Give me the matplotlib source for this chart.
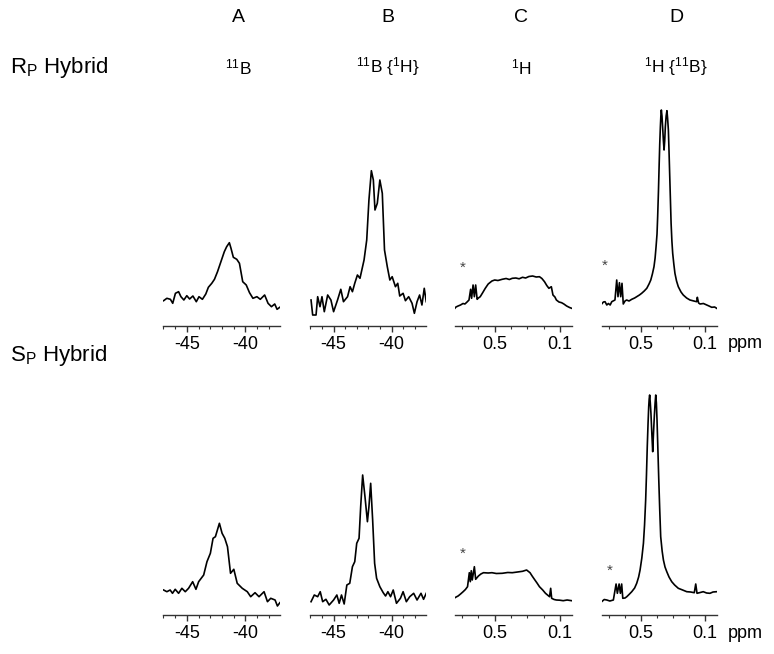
import matplotlib.pyplot as plt
from matplotlib.ticker import FixedLocator, MultipleLocator

plt.rcParams['font.family'] = ['Liberation Sans', 'DejaVu Sans']
plt.rcParams['mathtext.fontset'] = 'custom'
plt.rcParams['mathtext.rm'] = 'Liberation Sans'
plt.rcParams['mathtext.it'] = 'Liberation Sans'

# widma (ppm, intensywność w jednostkach umownych)
rp_b_ppm = [-46.98, -46.7, -46.4, -46.2, -45.97, -45.7, -45.5, -45.25, -45.0, -44.76, -44.48, -44.19,
            -43.96, -43.67, -43.38, -43.16, -42.87, -42.64, -42.38, -42.09, -41.8, -41.6, -41.37,
            -41.23, -41.03, -40.74, -40.51, -40.23, -39.93, -39.65, -39.36, -39.02, -38.73, -38.36,
            -38.07, -37.78, -37.5, -37.3, -37.07]
rp_b_int = [25.3, 27.7, 26.7, 22.7, 32.7, 34.3, 29.3, 26, 30.3, 27, 30, 24.3, 29.3, 26.7, 32, 38.7,
            42.7, 46.7, 54.3, 64.3, 74.3, 79.3, 83.3, 77.7, 68.7, 66.7, 62.7, 44.3, 41, 33.3, 27.7,
            29.3, 26.7, 31, 22.7, 19.3, 22, 16.7, 18.7]

rp_bh_ppm = [-46.94, -46.8, -46.51, -46.37, -46.17, -46.0, -45.8, -45.51, -45.23, -45.0, -44.66,
             -44.38, -44.15, -43.8, -43.58, -43.38, -43.18, -42.95, -42.73, -42.38, -42.15, -41.96,
             -41.75, -41.58, -41.44, -41.24, -41.02, -40.81, -40.62, -40.38, -40.16, -39.96, -39.68,
             -39.48, -39.31, -39.02, -38.82, -38.54, -38.25, -38.05, -37.82, -37.6, -37.4, -37.2,
             -37.03]
rp_bh_int = [26, 11, 11, 29.3, 19.3, 29.3, 14.3, 31, 26, 14.3, 26, 36.7, 24.3, 29.3, 39.3, 34.3,
             42.7, 51, 47.7, 66, 86, 126, 155.3, 146, 116, 122.7, 146, 132.7, 76, 59.3, 46, 49.3,
             39.3, 42.7, 30, 32.7, 25.3, 29.3, 22.7, 12.7, 24.3, 31, 21, 37.7, 24.3]

rp_h_ppm = [0.75, 0.738, 0.725, 0.71, 0.695, 0.683, 0.67, 0.658, 0.648, 0.642, 0.633, 0.625, 0.617,
            0.608, 0.6, 0.589, 0.575, 0.558, 0.54, 0.517, 0.5, 0.48, 0.454, 0.43, 0.41, 0.392, 0.37,
            0.35, 0.329, 0.31, 0.29, 0.267, 0.245, 0.225, 0.21, 0.194, 0.18, 0.167, 0.152, 0.142,
            0.13, 0.121, 0.105, 0.089, 0.075, 0.058, 0.04, 0.027]
rp_h_int = [16.7, 19, 20, 21, 22.5, 22, 24, 26, 36.7, 27.7, 41, 29.3, 41, 26.7, 28, 29.3, 33,
            37.7, 42, 45, 46, 45.5, 46.7, 47.5, 46.5, 47.7, 48, 47.2, 48.7, 48, 49.5, 50, 49, 49.3,
            47.5, 44.3, 40.5, 37.7, 39.3, 31, 29, 26, 24, 23.3, 22, 20, 18.5, 17.7]

rp_hb_ppm = [0.746, 0.735, 0.725, 0.714, 0.704, 0.693, 0.683, 0.663, 0.652, 0.644, 0.635, 0.627,
             0.619, 0.611, 0.6, 0.59, 0.575, 0.558, 0.54, 0.527, 0.51, 0.496, 0.48, 0.464, 0.45,
             0.439, 0.429, 0.419, 0.412, 0.406, 0.4, 0.396, 0.391, 0.387, 0.383, 0.379, 0.376,
             0.373, 0.369, 0.365, 0.36, 0.356, 0.352, 0.348, 0.343, 0.338, 0.334, 0.329, 0.325,
             0.321, 0.316, 0.312, 0.307, 0.302, 0.295, 0.288, 0.278, 0.267, 0.25, 0.236, 0.215,
             0.194, 0.17, 0.152, 0.148, 0.14, 0.131, 0.11, 0.089, 0.075, 0.058, 0.04, 0.027]
rp_hb_int = [22, 24, 24.3, 21, 22.5, 21, 24.3, 26, 46, 29.3, 43.3, 29.3, 42.7, 22, 25, 26, 25,
             26.7, 28, 29.3, 31, 32.7, 35, 37.7, 42, 46, 52, 59.3, 68, 79.3, 92, 109.3, 135, 159.3,
             182, 199.3, 210, 216, 210, 199.3, 185, 176, 185, 199.3, 210, 215.3, 208, 196, 175,
             152.7, 125, 102.7, 85, 72.7, 62, 52.7, 45, 39.3, 34, 31, 28, 26, 25, 24.3, 28.7, 23,
             22, 22.5, 21, 20, 18.7, 19, 17.7]

sp_b_ppm = [-46.98, -46.7, -46.42, -46.22, -45.99, -45.7, -45.42, -45.13, -44.85, -44.5, -44.22,
            -43.99, -43.56, -43.28, -42.99, -42.76, -42.56, -42.22, -41.99, -41.76, -41.53, -41.27,
            -40.99, -40.7, -40.27, -39.84, -39.55, -39.18, -38.84, -38.41, -38.12, -37.84, -37.47,
            -37.27, -37.06]
sp_b_int = [25, 23.3, 25, 21.7, 25.7, 21.7, 26.7, 23.3, 26.7, 33.3, 25.7, 33.3, 40, 53.3, 61.7,
            76.7, 78.3, 91.7, 81.7, 76.7, 68.3, 41.7, 45.7, 31.7, 26.7, 23.3, 18.3, 22.3, 18.3,
            23.3, 13.3, 16.7, 15, 9, 12.3]

sp_bh_ppm = [-46.94, -46.66, -46.37, -46.15, -45.94, -45.66, -45.38, -45.0, -44.72, -44.52, -44.32,
             -44.09, -43.86, -43.61, -43.38, -43.18, -43.01, -42.81, -42.67, -42.5, -42.3, -42.09,
             -41.96, -41.81, -41.64, -41.47, -41.3, -41.02, -40.73, -40.53, -40.33, -40.1, -39.87,
             -39.59, -39.25, -39.02, -38.74, -38.45, -38.11, -37.82, -37.48, -37.26, -37.03]
sp_bh_int = [13.3, 20, 18.3, 23.3, 13.3, 15.7, 10, 15, 20, 11.7, 20, 11, 30, 31.7, 48.3, 53.3,
             71.7, 76.7, 108.3, 140, 118.3, 93.3, 108.3, 131.7, 95, 51.7, 36.7, 28.3, 22.3, 19,
             23.3, 18.3, 25, 11.7, 16.7, 23.3, 13.3, 18.3, 21.7, 15, 21.7, 15.7, 21.7]

sp_h_ppm = [0.75, 0.737, 0.725, 0.71, 0.694, 0.68, 0.667, 0.656, 0.65, 0.644, 0.638, 0.625, 0.617,
            0.6, 0.585, 0.569, 0.54, 0.517, 0.49, 0.454, 0.42, 0.392, 0.36, 0.329, 0.304, 0.283,
            0.27, 0.256, 0.24, 0.225, 0.205, 0.188, 0.163, 0.156, 0.15, 0.135, 0.121, 0.1, 0.079,
            0.055, 0.027]
sp_h_int = [16.7, 18, 19, 21, 23.3, 25.5, 28.3, 42.3, 33.3, 44.3, 35, 48.3, 35.7, 39, 41, 42.3,
            42, 42.3, 41.5, 41.7, 42.5, 42.3, 43, 43.7, 45, 42.3, 39, 35.7, 32, 28.3, 25, 21.7,
            18.3, 26.7, 16.7, 15.5, 15, 14.8, 14.3, 15, 14.3]

sp_hb_ppm = [0.746, 0.73, 0.714, 0.695, 0.673, 0.656, 0.648, 0.637, 0.629, 0.621, 0.614, 0.6,
             0.589, 0.575, 0.558, 0.54, 0.527, 0.515, 0.506, 0.495, 0.485, 0.478, 0.471, 0.466,
             0.461, 0.456, 0.452, 0.449, 0.446, 0.442, 0.438, 0.432, 0.427, 0.422, 0.417, 0.412,
             0.408, 0.404, 0.4, 0.395, 0.389, 0.383, 0.377, 0.368, 0.36, 0.35, 0.339, 0.325,
             0.308, 0.29, 0.267, 0.24, 0.214, 0.19, 0.167, 0.158, 0.15, 0.13, 0.111, 0.09, 0.069,
             0.05, 0.027]
sp_hb_int = [13.3, 15.5, 15, 14, 15, 31, 21.7, 31, 21.7, 31, 16.7, 17, 18.3, 20.5, 23.3, 27,
             31.7, 38, 45, 57, 71.7, 90, 115, 140, 168.3, 192, 208.3, 216, 220, 212, 201.7, 180,
             163.3, 182, 198.3, 212, 220, 212, 195, 168, 135, 105, 78.3, 64, 55, 48, 43.3, 38,
             33.3, 30, 26.7, 25, 23.3, 23, 22.3, 31, 21.7, 22.5, 23.3, 22, 21.7, 23, 23.3]

# gwiazdki (ppm, intensywność)
gwiazdki = {'rp_h': (0.694, 58.3), 'rp_hb': (0.725, 60.3),
            'sp_h': (0.694, 61.7), 'sp_hb': (0.698, 44.3)}

widma = [[(rp_b_ppm, rp_b_int, None), (rp_bh_ppm, rp_bh_int, None),
          (rp_h_ppm, rp_h_int, 'rp_h'), (rp_hb_ppm, rp_hb_int, 'rp_hb')],
         [(sp_b_ppm, sp_b_int, None), (sp_bh_ppm, sp_bh_int, None),
          (sp_h_ppm, sp_h_int, 'sp_h'), (sp_hb_ppm, sp_hb_int, 'sp_hb')]]

W, H = 774, 654
fig = plt.figure(figsize=(W / 100, H / 100), dpi=100)

kol_x = [163, 310, 455, 602]
kol_w = [117, 116, 117, 115]
wiersz_dol = [326, 615]
wys = 226
b_lim = (-47.03, -37.05)
h_lim = (0.744, 0.025)

for r in range(2):
    for c in range(4):
        x0 = kol_x[c]
        ax = fig.add_axes([x0 / W, 1 - wiersz_dol[r] / H, kol_w[c] / W, wys / H])
        ppm, inten, g = widma[r][c]
        ax.plot(ppm, inten, color='black', lw=1.2)
        if g:
            ax.text(gwiazdki[g][0], gwiazdki[g][1], '*', color='#444444', fontsize=11,
                    ha='center', va='center')
        if c < 2:
            ax.set_xlim(*b_lim)
            ax.xaxis.set_major_locator(FixedLocator([-45, -40]))
            ax.xaxis.set_minor_locator(MultipleLocator(1))
            ax.set_xticklabels(['-45', '-40'])
        else:
            ax.set_xlim(*h_lim)
            ax.xaxis.set_major_locator(FixedLocator([0.5, 0.1]))
            ax.xaxis.set_minor_locator(FixedLocator([0.7, 0.6, 0.4, 0.3, 0.2]))
            ax.set_xticklabels(['0.5', '0.1'])
        ax.set_ylim(0, wys)
        ax.set_yticks([])
        for s in ['top', 'left', 'right']:
            ax.spines[s].set_visible(False)
        ax.spines['bottom'].set_color('#333333')
        ax.spines['bottom'].set_linewidth(1.0)
        ax.tick_params(axis='x', which='major', length=4, width=1, pad=3, labelsize=13,
                       color='#333333')
        ax.tick_params(axis='x', which='minor', length=2.5, width=0.8, color='#333333')
        ax.patch.set_alpha(0)

# opisy
naglowki = ['A', 'B', 'C', 'D']
jadra = [r'$\mathregular{^{11}B}$', r'$\mathregular{^{11}B\ \{^{1}H\}}$',
         r'$\mathregular{^{1}H}$', r'$\mathregular{^{1}H\ \{^{11}B\}}$']
nag_x = [238, 388, 521, 676]
for nx, n, j in zip(nag_x, naglowki, jadra):
    fig.text(nx / W, 1 - 17 / H, n, ha='center', va='center', fontsize=14)
    fig.text(nx / W, 1 - 67 / H, j, ha='center', va='center', fontsize=12.5)

fig.text(10 / W, 1 - 67 / H, r'$\mathregular{R_P}$ Hybrid', ha='left', va='center', fontsize=16)
fig.text(10 / W, 1 - 355 / H, r'$\mathregular{S_P}$ Hybrid', ha='left', va='center', fontsize=16)
for yy in [343, 633]:
    fig.text(728 / W, 1 - yy / H, 'ppm', ha='left', va='center', fontsize=13)

plt.savefig('out.png', dpi=100)
